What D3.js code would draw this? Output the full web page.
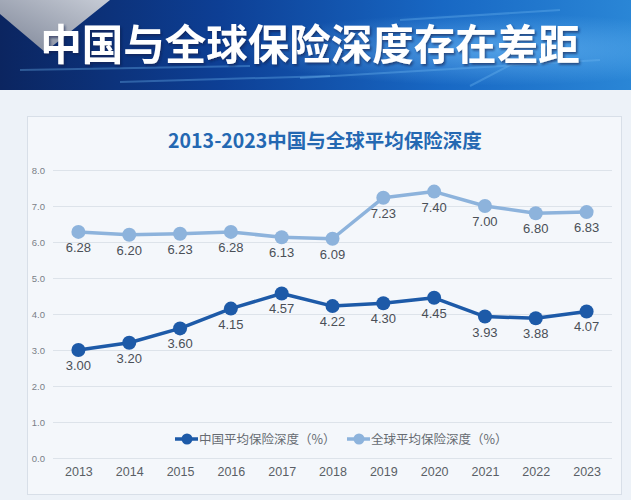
<!DOCTYPE html>
<html>
<head>
<meta charset="utf-8">
<script src="https://cdn.jsdelivr.net/npm/d3@7"></script>
<style>
  html, body { margin: 0; padding: 0; background: #edf2f8; }
  svg { display: block; }
</style>
</head>
<body>
<svg id="chart" width="631" height="500"></svg>
<script>
// ---- Data ----
const years = ["2013","2014","2015","2016","2017","2018","2019","2020","2021","2022","2023"];
const chinaValues = [3.00, 3.20, 3.60, 4.15, 4.57, 4.22, 4.30, 4.45, 3.93, 3.88, 4.07];
const globalValues = [6.28, 6.20, 6.23, 6.28, 6.13, 6.09, 7.23, 7.40, 7.00, 6.80, 6.83];
const yTicks = [0, 1, 2, 3, 4, 5, 6, 7, 8];
const seriesNames = ["中国平均保险深度（%）", "全球平均保险深度（%）"];
const bannerTitle = "中国与全球保险深度存在差距";
const chartTitle = "2013-2023中国与全球平均保险深度";

const W = 631, H = 500;
const svg = d3.select("#chart");
const defs = svg.append("defs");

// ---- Banner ----
const bg = defs.append("linearGradient").attr("id", "bannerGrad").attr("x1", 0).attr("x2", 1).attr("y1", 0).attr("y2", 0);
bg.append("stop").attr("offset", "0%").attr("stop-color", "#0b2560");
bg.append("stop").attr("offset", "35%").attr("stop-color", "#0d3f95");
bg.append("stop").attr("offset", "70%").attr("stop-color", "#1868c4");
bg.append("stop").attr("offset", "100%").attr("stop-color", "#2a86d6");
const glow = defs.append("radialGradient").attr("id", "glow").attr("cx", 0.78).attr("cy", 0.55).attr("r", 0.4);
glow.append("stop").attr("offset", "0%").attr("stop-color", "#7cc8ff").attr("stop-opacity", 0.55);
glow.append("stop").attr("offset", "100%").attr("stop-color", "#7cc8ff").attr("stop-opacity", 0);
const tri = defs.append("linearGradient").attr("id", "triGrad").attr("x1", 0).attr("x2", 1).attr("y1", 1).attr("y2", 0);
tri.append("stop").attr("offset", "0%").attr("stop-color", "#7d8597");
tri.append("stop").attr("offset", "100%").attr("stop-color", "#c7ccd6");
const shadow = defs.append("filter").attr("id", "shadow").attr("x", "-10%").attr("y", "-20%").attr("width", "120%").attr("height", "150%");
shadow.append("feDropShadow").attr("dx", 1.5).attr("dy", 2).attr("stdDeviation", 1.2)
  .attr("flood-color", "#0a1f4d").attr("flood-opacity", 0.6);

svg.append("rect").attr("x", 0).attr("y", 0).attr("width", W).attr("height", 90).attr("fill", "url(#bannerGrad)");
svg.append("rect").attr("x", 0).attr("y", 0).attr("width", W).attr("height", 90).attr("fill", "url(#glow)");
svg.append("path").attr("d", "M0,0 L110,0 L45,52 L0,14 Z").attr("fill", "url(#triGrad)");
// faint streaks
const streaks = [[20,70,250,66],[300,78,600,60],[400,20,560,10],[120,82,330,76],[470,86,520,60]];
svg.append("g").selectAll("line").data(streaks).join("line")
  .attr("x1", d => d[0]).attr("y1", d => d[1]).attr("x2", d => d[2]).attr("y2", d => d[3])
  .attr("stroke", "#6fb6f0").attr("stroke-opacity", 0.35).attr("stroke-width", 2);

svg.append("text").attr("x", 310).attr("y", 60).attr("text-anchor", "middle")
  .attr("font-family", "'Noto Sans CJK SC', sans-serif").attr("font-weight", 700).attr("font-size", 41.5)
  .attr("fill", "#ffffff").attr("filter", "url(#shadow)")
  .text(bannerTitle);

// ---- Card ----
svg.append("rect").attr("x", 0).attr("y", 90).attr("width", W).attr("height", H - 90).attr("fill", "#edf2f8");
svg.append("rect").attr("x", 27.5).attr("y", 116.5).attr("width", 594).attr("height", 378)
  .attr("fill", "#f4f7fb").attr("stroke", "#d8dfe8").attr("stroke-width", 1);

svg.append("text").attr("x", 325).attr("y", 148).attr("text-anchor", "middle")
  .attr("font-family", "'Noto Sans CJK SC', sans-serif").attr("font-weight", 700).attr("font-size", 19.5)
  .attr("fill", "#2468b2").text(chartTitle);

// ---- Scales ----
const x = d3.scalePoint().domain(years).range([53, 612]).padding(0.5);
const y = d3.scaleLinear().domain([0, 8]).range([458, 170]);

// grid
svg.append("g").selectAll("line").data(yTicks).join("line")
  .attr("x1", 53).attr("x2", 612)
  .attr("y1", d => Math.round(y(d)) + 0.5).attr("y2", d => Math.round(y(d)) + 0.5)
  .attr("stroke", "#dde3ea").attr("stroke-width", 1);

// y axis
const yAxis = svg.append("g").attr("transform", "translate(53,0)")
  .call(d3.axisLeft(y).tickValues(yTicks).tickFormat(d3.format(".1f")).tickSize(0).tickPadding(8));
yAxis.select(".domain").remove();
yAxis.selectAll("text").attr("font-family", "'Liberation Sans', Arial, sans-serif").attr("font-size", 9.5).attr("fill", "#7a7f87");

// x axis
const xAxis = svg.append("g").attr("transform", "translate(0,458)")
  .call(d3.axisBottom(x).tickSize(0).tickPadding(9));
xAxis.select(".domain").remove();
xAxis.selectAll("text").attr("font-family", "'Liberation Sans', Arial, sans-serif").attr("font-size", 12.5).attr("fill", "#5a5f66");

// ---- Series ----
const series = [
  { name: seriesNames[1], values: globalValues, color: "#8db3dc" },
  { name: seriesNames[0], values: chinaValues, color: "#1d5aa8" }
];
const line = d3.line().x((d, i) => x(years[i])).y(d => y(d));

series.forEach(s => {
  const g = svg.append("g");
  g.append("path").datum(s.values).attr("d", line).attr("fill", "none")
    .attr("stroke", s.color).attr("stroke-width", 3.5).attr("stroke-linejoin", "round");
  g.selectAll("circle").data(s.values).join("circle")
    .attr("cx", (d, i) => x(years[i])).attr("cy", d => y(d)).attr("r", 7)
    .attr("fill", s.color);
  g.selectAll("text").data(s.values).join("text")
    .attr("x", (d, i) => x(years[i])).attr("y", d => y(d) + 20)
    .attr("text-anchor", "middle")
    .attr("font-family", "'Liberation Sans', Arial, sans-serif").attr("font-size", 13)
    .attr("fill", "#4a4f57")
    .text(d => d3.format(".2f")(d));
});

// ---- Legend ----
const legendItems = [
  { name: seriesNames[0], color: "#1d5aa8", x: 175 },
  { name: seriesNames[1], color: "#8db3dc", x: 347 }
];
const lg = svg.append("g").selectAll("g").data(legendItems).join("g")
  .attr("transform", d => `translate(${d.x},439)`);
lg.append("line").attr("x1", 0).attr("x2", 23).attr("y1", 0).attr("y2", 0)
  .attr("stroke", d => d.color).attr("stroke-width", 3.5);
lg.append("circle").attr("cx", 12).attr("cy", 0).attr("r", 5.5).attr("fill", d => d.color);
lg.append("text").attr("x", 24).attr("y", 4.5)
  .attr("font-family", "'Noto Sans CJK SC', sans-serif").attr("font-size", 12.5)
  .attr("fill", "#666b72").text(d => d.name);
</script>
</body>
</html>
